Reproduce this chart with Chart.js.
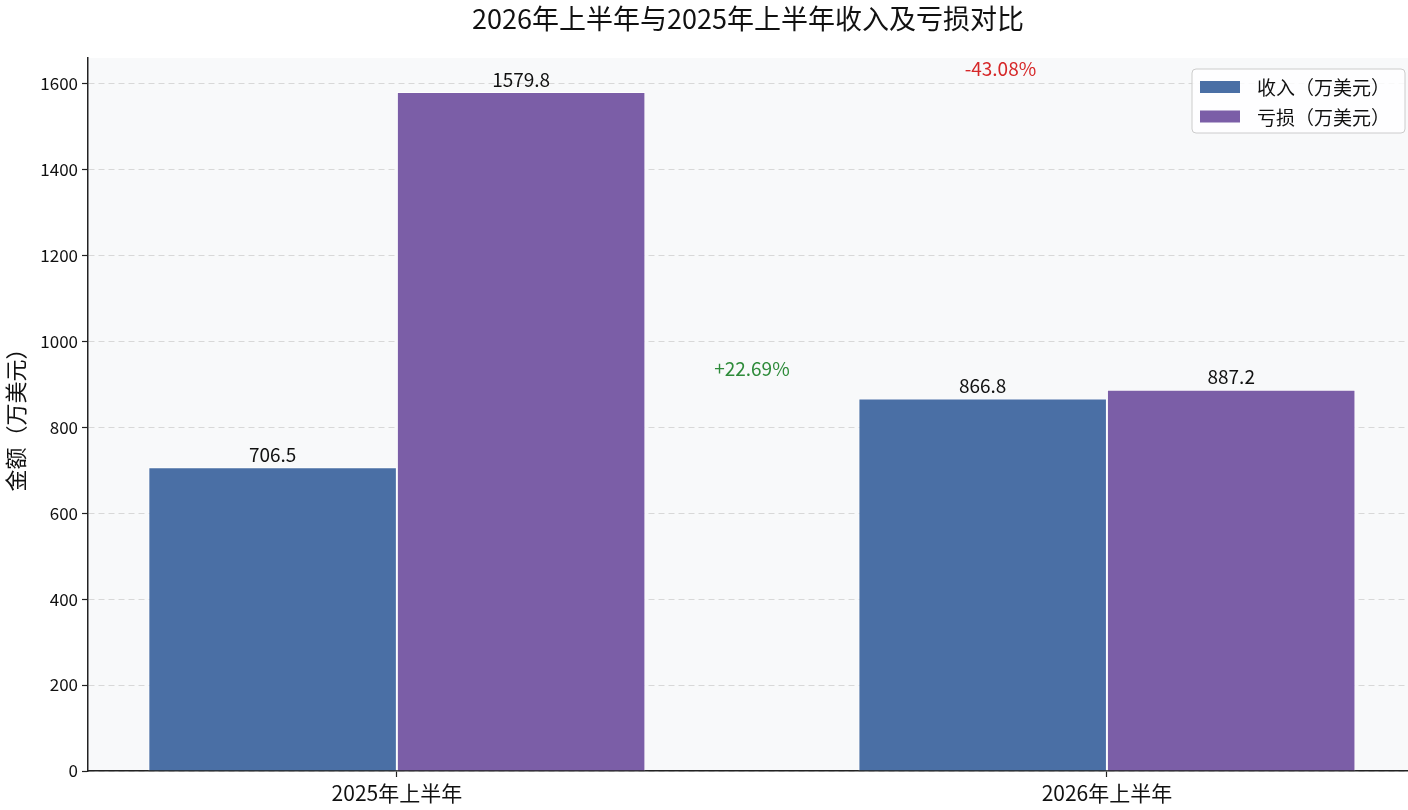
<!DOCTYPE html>
<html>
<head>
<meta charset="utf-8">
<script src="https://cdn.jsdelivr.net/npm/chart.js@4"></script>
<style>
  html, body { margin: 0; padding: 0; background: #ffffff; }
  #wrap { width: 1408px; height: 810px; }
</style>
</head>
<body>
<div id="wrap"><canvas id="chart" width="1408" height="810"></canvas></div>
<script>
// data
let periods = ['2025年上半年', '2026年上半年'];
let revenue = [706.5, 866.8];
let loss = [1579.8, 887.2];
let seriesNames = ['收入（万美元）', '亏损（万美元）'];
let yTicks = [0, 200, 400, 600, 800, 1000, 1200, 1400, 1600];
let changeNotes = [
    {text: '+22.69%', x: 0.5, y: 936, color: '#2e8b3a'},
    {text: '-43.08%', x: 0.85, y: 1635, color: '#d62728'}
];

let colors = ['#4a6fa5', '#7b5ea7'];
let fontFamily = '"Noto Sans CJK SC", "Noto Sans", sans-serif';

/* plot background, value labels, change notes, title and legend box */
let decorPlugin = {
    id: 'decor',
    beforeDraw: function(chart) {
        let ctx = chart.ctx;
        let a = chart.chartArea;
        ctx.save();
        ctx.fillStyle = '#f8f9fa';
        ctx.fillRect(a.left, a.top, a.right - a.left, a.bottom - a.top);
        ctx.restore();
    },
    afterDatasetsDraw: function(chart) {
        let ctx = chart.ctx;
        let a = chart.chartArea;
        let xs = chart.scales.x;
        let ys = chart.scales.y;
        ctx.save();

        // values above the bars
        ctx.font = '19px ' + fontFamily;
        ctx.fillStyle = '#111111';
        ctx.textAlign = 'center';
        ctx.textBaseline = 'bottom';
        chart.data.datasets.forEach(function(ds, i) {
            chart.getDatasetMeta(i).data.forEach(function(bar, j) {
                ctx.fillText(ds.data[j].y.toFixed(1), bar.x, bar.y - 3);
            });
        });

        // percentage change notes
        ctx.font = '19px ' + fontFamily;
        ctx.textBaseline = 'middle';
        changeNotes.forEach(function(n) {
            ctx.fillStyle = n.color;
            ctx.fillText(n.text, xs.getPixelForValue(n.x), ys.getPixelForValue(n.y));
        });

        // title
        ctx.fillStyle = '#111111';
        ctx.font = '27px ' + fontFamily;
        ctx.fillText('2026年上半年与2025年上半年收入及亏损对比', (a.left + a.right) / 2, 19);

        // legend
        let lx = 1192, ly = 69, lw = 213, lh = 64;
        ctx.beginPath();
        ctx.roundRect(lx, ly, lw, lh, 4);
        ctx.fillStyle = 'rgba(255,255,255,0.85)';
        ctx.fill();
        ctx.strokeStyle = '#cccccc';
        ctx.lineWidth = 1;
        ctx.stroke();
        ctx.font = '19px ' + fontFamily;
        ctx.textAlign = 'left';
        seriesNames.forEach(function(name, i) {
            let cy = 87 + i * 29.5;
            ctx.fillStyle = colors[i];
            ctx.fillRect(1200, cy - 6, 40, 12);
            ctx.fillStyle = '#111111';
            ctx.fillText(name, 1257, cy + 1);
        });
        ctx.restore();
    }
};

function toPoints(values) {
    return values.map(function(v, i) { return {x: i, y: v}; });
}

new Chart(document.getElementById('chart'), {
    type: 'bar',
    data: {
        datasets: [{
            label: seriesNames[0],
            data: toPoints(revenue),
            backgroundColor: colors[0],
            borderColor: 'rgba(255,255,255,0.8)',
            borderWidth: 1
        }, {
            label: seriesNames[1],
            data: toPoints(loss),
            backgroundColor: colors[1],
            borderColor: 'rgba(255,255,255,0.8)',
            borderWidth: 1
        }]
    },
    options: {
        responsive: false,
        animation: false,
        devicePixelRatio: 1,
        layout: { padding: { top: 58, left: 0, right: 0, bottom: 0 } },
        datasets: { bar: { categoryPercentage: 0.7, barPercentage: 1.0 } },
        plugins: {
            legend: { display: false },
            title: { display: false },
            tooltip: { enabled: false }
        },
        scales: {
            x: {
                type: 'linear',
                offset: false,
                min: -0.435,
                max: 1.424,
                afterBuildTicks: function(scale) {
                    scale.ticks = periods.map(function(p, i) { return {value: i}; });
                },
                afterFit: function(scale) { scale.height = 39; },
                ticks: {
                    callback: function(v) { return periods[v]; },
                    color: '#111111',
                    font: { family: fontFamily, size: 21 },
                    padding: 3,
                    maxRotation: 0,
                    autoSkip: false
                },
                grid: {
                    offset: false,
                    drawOnChartArea: false,
                    drawTicks: true,
                    tickLength: 6,
                    tickColor: '#222222',
                    tickWidth: 1.2
                },
                border: { display: true, color: '#222222', width: 1.5 }
            },
            y: {
                min: 0,
                max: 1659,
                afterBuildTicks: function(scale) {
                    scale.ticks = yTicks.map(function(v) { return {value: v}; });
                },
                afterFit: function(scale) { scale.width = 88; },
                ticks: {
                    callback: function(v) { return String(v); },
                    color: '#111111',
                    font: { family: fontFamily, size: 17 },
                    padding: 4
                },
                grid: {
                    color: '#d8d8d8',
                    lineWidth: 1,
                    drawTicks: true,
                    tickLength: 6,
                    tickColor: '#222222',
                    tickWidth: 1.2
                },
                border: { display: true, color: '#222222', width: 1.5, dash: [6, 4] },
                title: {
                    display: true,
                    text: '金额（万美元）',
                    color: '#111111',
                    font: { family: fontFamily, size: 22 },
                    padding: { top: 2, bottom: 0 }
                }
            }
        }
    },
    plugins: [decorPlugin]
});
</script>
</body>
</html>
